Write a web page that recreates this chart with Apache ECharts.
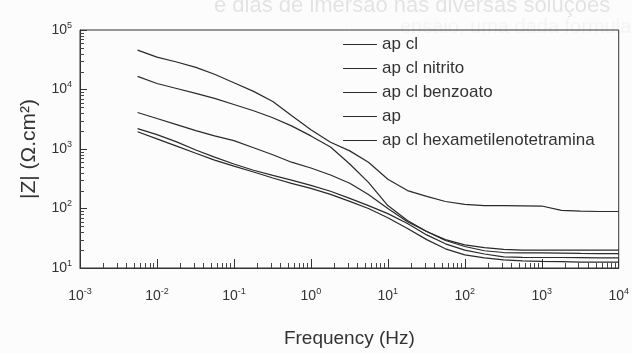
<!DOCTYPE html>
<html>
<head>
<meta charset="utf-8">
<script src="https://cdn.jsdelivr.net/npm/echarts@6/dist/echarts.min.js"></script>
<style>
  html, body { margin: 0; padding: 0; background: #fcfcfc; }
  #chart { width: 632px; height: 353px; }
</style>
</head>
<body>
<div id="chart"></div>
<script>
// frequencias (Hz)
const freq = [0.0056, 0.01, 0.018, 0.032, 0.056, 0.1, 0.18, 0.32, 0.56, 1, 1.8, 3.2, 5.6,
  10, 18, 32, 56, 100, 180, 320, 560, 1000, 1800, 3200, 5600, 10000]

// |Z| (ohm.cm2)
const zApCl = [46000, 35000, 29000, 23500, 18000, 13000, 9300, 6300, 3650, 2100, 1300, 930, 600,
  310, 200, 160, 131, 117, 112, 112, 111, 110, 93, 90, 89, 89]
const zApClNitrito = [16600, 12600, 10400, 8600, 7100, 5600, 4400, 3350, 2450, 1660, 1080, 560, 275,
  112, 63, 41, 30, 24.5, 22, 20.5, 20, 20, 20, 20, 20, 20]
const zApClBenzoato = [4100, 3250, 2570, 2040, 1660, 1380, 1050, 800, 600, 480, 365, 265, 172,
  100, 60, 41, 29, 23, 19.5, 18.2, 18, 18, 17.8, 17.6, 17.5, 17.5]
const zAp = [2200, 1740, 1320, 960, 730, 560, 440, 360, 300, 245, 195, 148, 112,
  82, 56, 36, 25.5, 20, 17.2, 15.4, 15.1, 15, 15, 14.9, 14.8, 14.8]
const zApClHexa = [1950, 1480, 1120, 850, 650, 515, 410, 325, 265, 218, 173, 132, 100,
  70, 46, 30, 21, 16.6, 14.8, 13.7, 13.2, 12.9, 12.8, 12.6, 12.6, 12.6]

const names = ['ap cl', 'ap cl nitrito', 'ap cl benzoato', 'ap', 'ap cl hexametilenotetramina']
const valores = [zApCl, zApClNitrito, zApClBenzoato, zAp, zApClHexa]

// decadas dos eixos (expoentes)
const xDecadas = [-3, -2, -1, 0, 1, 2, 3]
const yDecadas = [1, 2, 3, 4]
const xMin = -3, xMax = 4, yMin = 1, yMax = 5

// ticks menores (2..9 de cada decada), em log10
function menores(decadas) {
  let out = []
  decadas.forEach(d => {
    for (let k = 2; k <= 9; k++) out.push(d + Math.log10(k))
  })
  return out
}
const xMenores = menores(xDecadas)
const yMenores = menores(yDecadas)

const fonte = '"Liberation Sans", Arial, sans-serif'
const corTexto = '#333'

function potencia(v) {
  return '{b|10}{s|' + Math.round(v) + '}'
}
const richPot = {
  b: { fontSize: 14, lineHeight: 18, color: corTexto, fontFamily: fonte },
  s: { fontSize: 9, lineHeight: 10, verticalAlign: 'top', color: corTexto, fontFamily: fonte },
}

// ticks menores desenhados pela escala dos eixos
function ticksMenores(params, api) {
  const filhos = []
  xMenores.forEach(v => {
    const p = api.coord([v, yMin])
    const x = Math.round(p[0]) + 0.5
    filhos.push({ type: 'line', shape: { x1: x, y1: p[1], x2: x, y2: p[1] - 5 }, style: { stroke: '#444', lineWidth: 1 } })
  })
  yMenores.forEach(v => {
    const p = api.coord([xMin, v])
    const y = Math.round(p[1]) + 0.5
    filhos.push({ type: 'line', shape: { x1: p[0], y1: y, x2: p[0] + 4, y2: y }, style: { stroke: '#444', lineWidth: 1 } })
  })
  return { type: 'group', children: filhos }
}

const chart = echarts.init(document.getElementById('chart'))
const option = {
  backgroundColor: '#fcfcfc',
  animation: false,
  graphic: [
    {
      type: 'text', left: 214, top: -5, z: -1,
      style: { text: 'e dias de imersão nas diversas soluções', fontSize: 22, fontFamily: fonte, fill: 'rgba(0,0,0,0.1)' },
    },
    {
      type: 'text', left: 400, top: 17, z: -1,
      style: { text: 'ensaio, uma dada formulação', fontSize: 20, fontFamily: fonte, fill: 'rgba(0,0,0,0.035)' },
    },
  ],
  grid: {
    left: 80, right: 13, top: 30, bottom: 85,
    show: true, borderColor: '#333', borderWidth: 1, backgroundColor: 'transparent',
  },
  legend: {
    orient: 'vertical',
    left: 338,
    top: 31,
    itemWidth: 34,
    itemHeight: 12,
    itemGap: 7,
    icon: 'path://M0,0 L34,0 L34,1 L0,1 Z',
    textStyle: { fontSize: 17, color: corTexto, fontFamily: fonte },
    data: names,
  },
  xAxis: {
    type: 'value',
    min: xMin,
    max: xMax,
    interval: 1,
    name: 'Frequency (Hz)',
    nameLocation: 'middle',
    nameGap: 61,
    nameTextStyle: { fontSize: 19, color: corTexto, fontFamily: fonte },
    axisLine: { show: true, onZero: false, lineStyle: { color: '#333', width: 1 } },
    axisTick: { show: true, inside: true, length: 9, lineStyle: { color: '#333' } },
    splitLine: { show: false },
    axisLabel: { margin: 19, formatter: potencia, rich: richPot },
  },
  yAxis: {
    type: 'value',
    min: yMin,
    max: yMax,
    interval: 1,
    name: '|Z| (Ω.cm²)',
    nameLocation: 'middle',
    nameGap: 40,
    nameTextStyle: { fontSize: 21, color: corTexto, fontFamily: fonte },
    axisLine: { show: true, onZero: false, lineStyle: { color: '#333', width: 1 } },
    axisTick: { show: true, inside: true, length: 7, lineStyle: { color: '#333' } },
    splitLine: { show: false },
    axisLabel: { margin: 8, formatter: potencia, rich: richPot },
  },
  series: names.map((n, i) => ({
    name: n,
    type: 'line',
    symbol: 'none',
    data: freq.map((f, j) => [Math.log10(f), Math.log10(valores[i][j])]),
    lineStyle: { color: '#2a2a2a', width: 1.2 },
    itemStyle: { color: '#2a2a2a' },
  })).concat([
    {
      type: 'custom',
      renderItem: ticksMenores,
      data: [[0, 3]],
      clip: false,
      silent: true,
    },
  ]),
}
chart.setOption(option)
</script>
</body>
</html>
